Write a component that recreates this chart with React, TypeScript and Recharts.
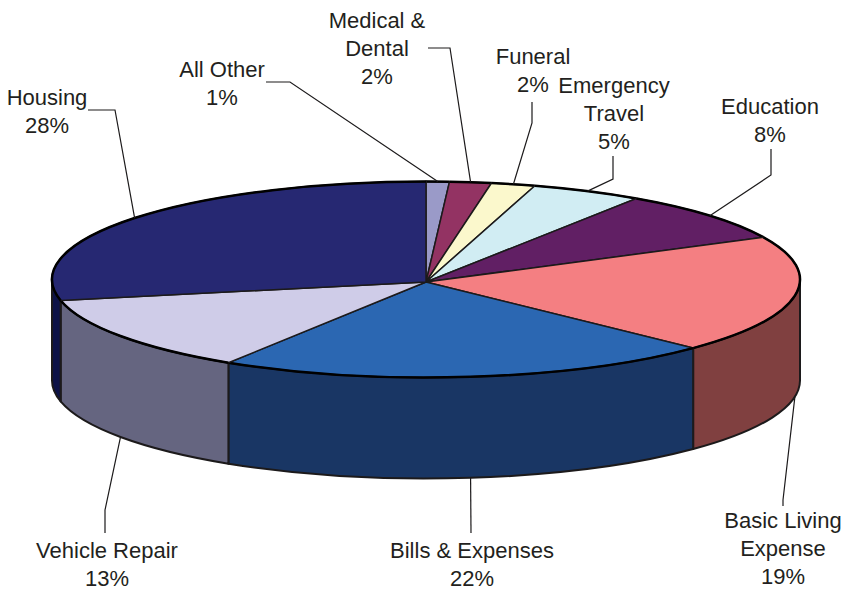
import { Pie, PieChart } from "recharts";

const categories = [
  ["All Other"],
  ["Medical &", "Dental"],
  ["Funeral"],
  ["Emergency", "Travel"],
  ["Education"],
  ["Basic Living", "Expense"],
  ["Bills & Expenses"],
  ["Vehicle Repair"],
  ["Housing"],
];
const shares = [1.0, 1.8, 1.9, 4.8, 8.4, 19.4, 21.5, 12.7, 28.4];
const topColors = ["#9a9ac8", "#933363", "#fbf8cc", "#d1edf3", "#611f64", "#f47f82", "#2b67b2", "#cfcce8", "#262872"];
const wallColors = ["#6b6b8c", "#672345", "#afad8e", "#92a5aa", "#431546", "#804040", "#193664", "#656580", "#0d1247"];

// label centre (first line) and the leader's elbow + end, in page pixels
const labelCenters = [
  [222, 69], [377, 20], [533, 56], [614, 85], [770, 106],
  [783, 520], [472, 550], [107, 550], [47, 97],
];
const leaderPoints = [
  [[290, 82], [266, 82]],
  [[450, 48], [428, 48]],
  [[532, 123], [532, 102]],
  [[613, 179], [613, 156]],
  [[771, 175], [771, 149]],
  [[783, 500], [783, 506]],
  [[471, 533], [471, 533]],
  [[105, 510], [105, 533]],
  [[115, 110], [88, 110]],
];

const data = categories.map((lines, i) => ({
  name: lines.join(" "),
  value: shares[i],
  fill: topColors[i],
  wall: wallColors[i],
}));

const WIDTH = 844;
const HEIGHT = 591;
const CX = 426;
const CY = 279.5;
const APEX_Y = 282;
const RX = 374;
const RY = 98;
const DEPTH = 101;
const INK = "#1c1a1b";
const TEXT = "#231f20";

const point = (angle: number, drop = 0) => {
  const a = (angle * Math.PI) / 180;
  return [CX + RX * Math.cos(a), CY - RY * Math.sin(a) + drop];
};

function TopSlice(props: any) {
  const { startAngle, endAngle, fill } = props;
  const [x1, y1] = point(startAngle);
  const [x2, y2] = point(endAngle);
  const large = Math.abs(startAngle - endAngle) > 180 ? 1 : 0;
  const arc = `M${x1},${y1} A${RX},${RY} 0 ${large} 1 ${x2},${y2}`;
  return (
    <g>
      <path d={`M${CX},${APEX_Y} L${x1},${y1} A${RX},${RY} 0 ${large} 1 ${x2},${y2} Z`} fill={fill} stroke={INK} strokeWidth={1.5} />
      <path d={arc} fill="none" stroke="#000" strokeWidth={2.5} />
    </g>
  );
}

// only the part of a slice facing the viewer (angles 0 to -180) gets a wall
function WallSlice(props: any) {
  const { startAngle, endAngle, payload, wall } = props;
  const from = Math.min(startAngle, 0);
  const to = Math.max(endAngle, -180);
  if (from <= to) return null;
  const [x1, y1] = point(from);
  const [x2, y2] = point(to);
  const [x3, y3] = point(to, DEPTH);
  const [x4, y4] = point(from, DEPTH);
  const d = `M${x1},${y1} A${RX},${RY} 0 0 1 ${x2},${y2} L${x3},${y3} A${RX},${RY} 0 0 0 ${x4},${y4} Z`;
  return <path d={d} fill={wall ?? payload?.wall} stroke={INK} strokeWidth={2} strokeLinejoin="round" />;
}

function SliceLabel(props: any) {
  const { index, startAngle, endAngle } = props;
  const mid = (startAngle + endAngle) / 2;
  const front = Math.sin((mid * Math.PI) / 180) < 0;
  const anchor = point(mid, front ? DEPTH : 0);
  const [elbow, end] = leaderPoints[index];
  const [x, y] = labelCenters[index];
  const lines = [...categories[index], `${Math.round(shares[index])}%`];
  return (
    <g>
      <polyline
        points={[anchor, elbow, end].map((p) => p.join(",")).join(" ")}
        fill="none"
        stroke={INK}
        strokeWidth={1.2}
      />
      {lines.map((line, i) => (
        <text
          key={line}
          x={x}
          y={y + 8 + i * 28}
          textAnchor="middle"
          fontFamily="'Liberation Sans', Arial, sans-serif"
          fontSize={22}
          fill={TEXT}
        >
          {line}
        </text>
      ))}
    </g>
  );
}

export default function App() {
  return (
    <div style={{ position: "absolute", left: 0, top: 0, width: WIDTH, height: HEIGHT, background: "#fff" }}>
      <PieChart width={WIDTH} height={HEIGHT} margin={{ top: 0, right: 0, bottom: 0, left: 0 }}>
        <Pie
          data={data}
          dataKey="value"
          cx={CX}
          cy={CY}
          outerRadius={RX}
          startAngle={90}
          endAngle={-270}
          paddingAngle={0}
          shape={WallSlice}
          isAnimationActive={false}
        />
        <Pie
          data={data}
          dataKey="value"
          cx={CX}
          cy={CY}
          outerRadius={RX}
          startAngle={90}
          endAngle={-270}
          paddingAngle={0}
          shape={TopSlice}
          label={SliceLabel}
          labelLine={false}
          isAnimationActive={false}
        />
      </PieChart>
    </div>
  );
}
